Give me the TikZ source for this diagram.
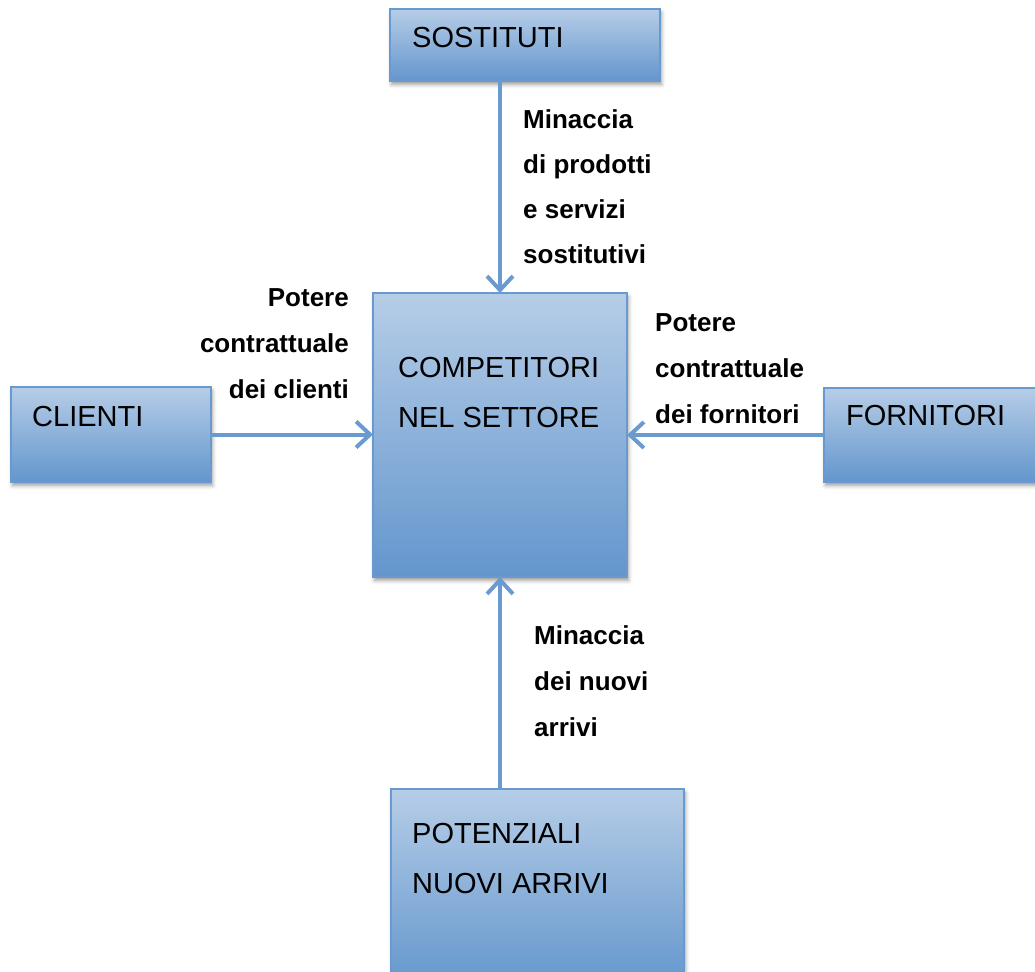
\documentclass[tikz,border=0pt]{standalone}
\usepackage{fontspec}
\setmainfont{Liberation Sans}
\usetikzlibrary{arrows.meta,shadows.blur}
\definecolor{boxtop}{RGB}{182,205,231}
\definecolor{boxbot}{RGB}{99,150,205}
\definecolor{boxline}{RGB}{104,153,207}
\definecolor{arrowc}{RGB}{106,155,208}
\begin{document}
\begin{tikzpicture}[x=1pt,y=-1pt,
  box/.style={draw=boxline, line width=1.5pt, top color=boxtop, bottom color=boxbot,
    inner sep=0pt, outer sep=0pt, anchor=north west,
    blur shadow={shadow xshift=1.5pt, shadow yshift=-3.5pt, shadow blur radius=4pt}},
  lbl/.style={font=\fontsize{29}{50}\selectfont, inner sep=0pt, align=left, anchor=base west},
  tag/.style={font=\bfseries\fontsize{26}{46}\selectfont, inner sep=0pt},
  arr/.style={draw=arrowc, line width=4pt, -{Straight Barb[length=14pt,width=26pt,line width=4pt]}}]
\useasboundingbox (0,0) rectangle (1035,971);
% boxes
\node[box, minimum width=270pt, minimum height=72pt] (sost) at (390,9) {};
\node[box, minimum width=254pt, minimum height=284pt] (comp) at (373,293) {};
\node[box, minimum width=200pt, minimum height=95pt] (cli) at (11,387) {};
\node[box, minimum width=230pt, minimum height=94pt] (forn) at (824,388) {};
\node[box, minimum width=293pt, minimum height=200pt] (pot) at (391,789) {};
% box texts (anchor at baseline of last line)
\node[lbl] (tsost) at (412,48) {SOSTITUTI};
\node[lbl] (tcomp) at (398,427) {COMPETITORI\\NEL SETTORE};
\node[lbl] (tcli) at (32,426) {CLIENTI};
\node[lbl] (tforn) at (846,425) {FORNITORI};
\node[lbl] (tpot) at (412,893) {POTENZIALI\\NUOVI ARRIVI};
% connectors
\draw[arr] (sost.south -| comp.north) -- (comp.north);
\draw[arr] (pot.north -| comp.south) -- (comp.south);
\draw[arr] (cli.east) -- (cli.east -| comp.west);
\draw[arr] (forn.west |- comp.east) -- (comp.east);
% labels
\node[tag, align=left, anchor=base west, font=\bfseries\fontsize{26}{45}\selectfont] (lsost) at (523,263) {Minaccia\\di prodotti\\e servizi\\sostitutivi};
\node[tag, align=right, anchor=base east] (lcli) at (349,398) {Potere\\contrattuale\\dei clienti};
\node[tag, align=left, anchor=base west] (lforn) at (655,423) {Potere\\contrattuale\\dei fornitori};
\node[tag, align=left, anchor=base west] (lpot) at (534,736) {Minaccia\\dei nuovi\\arrivi};
\end{tikzpicture}
\end{document}
